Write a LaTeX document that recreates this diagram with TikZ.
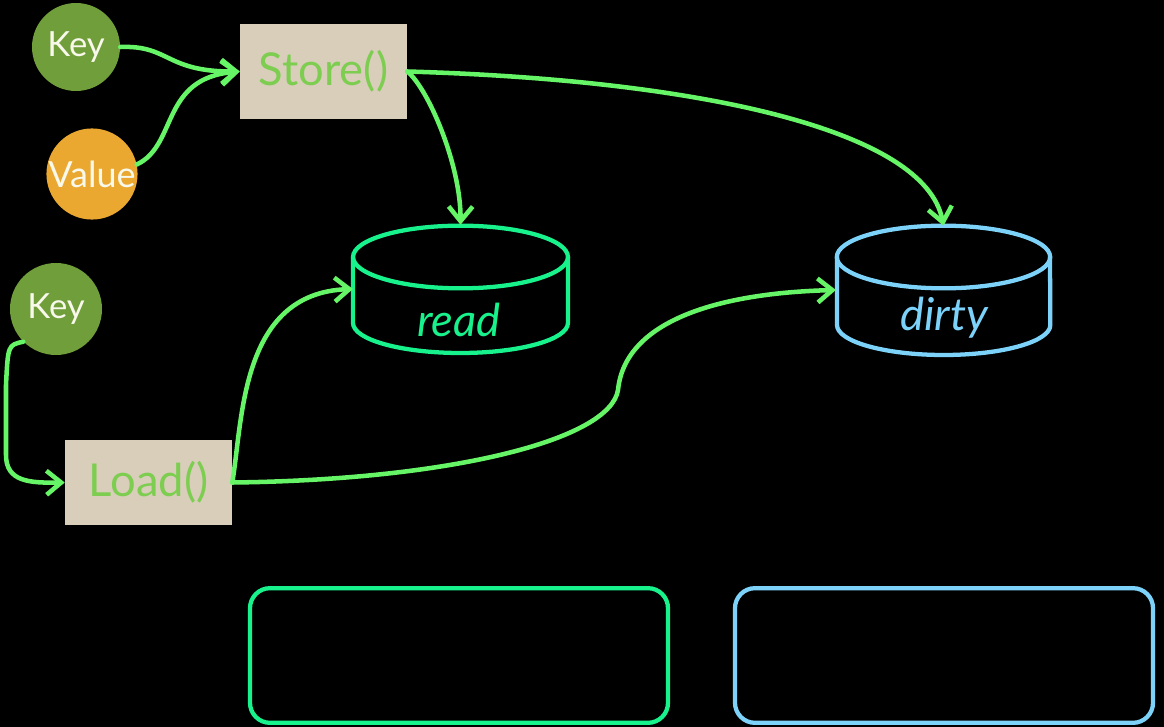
\documentclass[tikz,border=0pt]{standalone}
\usepackage{fontspec}
\setmainfont{Lato}
\usetikzlibrary{arrows.meta}
\definecolor{conngreen}{RGB}{102,245,102}
\definecolor{readgreen}{RGB}{24,242,140}
\definecolor{dirtyblue}{RGB}{125,210,250}
\definecolor{paper}{RGB}{216,206,186}
\definecolor{fngreen}{RGB}{125,205,80}
\definecolor{keygreen}{RGB}{112,158,58}
\definecolor{valorange}{RGB}{234,168,48}
\definecolor{chalk}{RGB}{248,248,235}
\begin{document}
\begin{tikzpicture}[x=0.75pt,y=-0.75pt,
  keycirc/.style={circle, fill=keygreen, minimum size=66pt, inner sep=0pt, text=chalk, font=\fontsize{26}{30}\selectfont},
  valcirc/.style={circle, fill=valorange, minimum size=67pt, inner sep=0pt, text=chalk, font=\fontsize{27}{30}\selectfont},
  fnbox/.style={rectangle, fill=paper, inner sep=0pt, text=fngreen, font=\fontsize{34}{38}\selectfont},
  frame/.style={rectangle, inner sep=0pt, minimum width=161pt, minimum height=96pt},
  cyl/.style={line width=3.2pt},
  cyllabel/.style={inner sep=0pt, font=\fontsize{34}{38}\selectfont\itshape},
  legend/.style={rectangle, draw, line width=3.2pt, rounded corners=15pt, inner sep=0pt, minimum width=313.5pt, minimum height=101pt},
  conn/.style={draw=conngreen, line width=3.4pt, line cap=round, -{Straight Barb[length=11pt,width=18pt]}}
]
\fill[black] (0,0) rectangle (1164,727);
\useasboundingbox (0,0) rectangle (1164,727);

% nodes
\node[keycirc] (key1) at (76,47) {Key};
\node[valcirc] (value) at (92,174) {Value};
\node[fnbox, minimum width=125.25pt, minimum height=71.25pt] (store) at (323.5,71.5) {Store()};
\node[keycirc, minimum size=69pt] (key2) at (56,309) {Key};
\node[fnbox, minimum width=125.25pt, minimum height=63.75pt] (load) at (148.5,482.5) {Load()};

\node[frame] (read) at (460.5,289) {};
\node[frame] (dirty) at (943.5,290) {};

% read cylinder
\draw[cyl, readgreen] (460.5,257) ellipse [x radius=80.6pt, y radius=23.5pt];
\draw[cyl, readgreen] (353,257) -- (353,323) arc[start angle=180, end angle=360, x radius=80.6pt, y radius=22.5pt] -- (568,257);
\node[cyllabel, text=readgreen] (readtext) at (459,320) {read};

% dirty cylinder
\draw[cyl, dirtyblue] (943.5,257) ellipse [x radius=80pt, y radius=23.5pt];
\draw[cyl, dirtyblue] (837,257) -- (837,325) arc[start angle=180, end angle=360, x radius=80pt, y radius=22.5pt] -- (1050,257);
\node[cyllabel, text=dirtyblue] (dirtytext) at (944,318) {dirty};

% legend boxes
\node[legend, draw=readgreen] (legread) at (459,655.5) {};
\node[legend, draw=dirtyblue] (legdirty) at (944,655.5) {};

% connectors
\draw[conn] (key1.east) .. controls (170,45) and (165,72) .. (store.west);
\draw[conn] (value.12) .. controls (178,145) and (160,78) .. (store.west);
\draw[conn] (store.east) .. controls (428,88) and (461,165) .. (read.north);
\draw[conn] (store.east) .. controls (700,80) and (925,130) .. (dirty.north);
\draw[conn] (key2.225) .. controls (8,345) .. (6,385) -- (6,455) .. controls (6,482) and (30,483) .. (load.west);
\draw[conn] (load.east) .. controls (243,420) and (240,293) .. (read.west);
\draw[conn] (load.east) .. controls (450,480) and (610,440) .. (618,390) .. controls (625,320) and (720,293) .. (dirty.west);
\end{tikzpicture}
\end{document}
